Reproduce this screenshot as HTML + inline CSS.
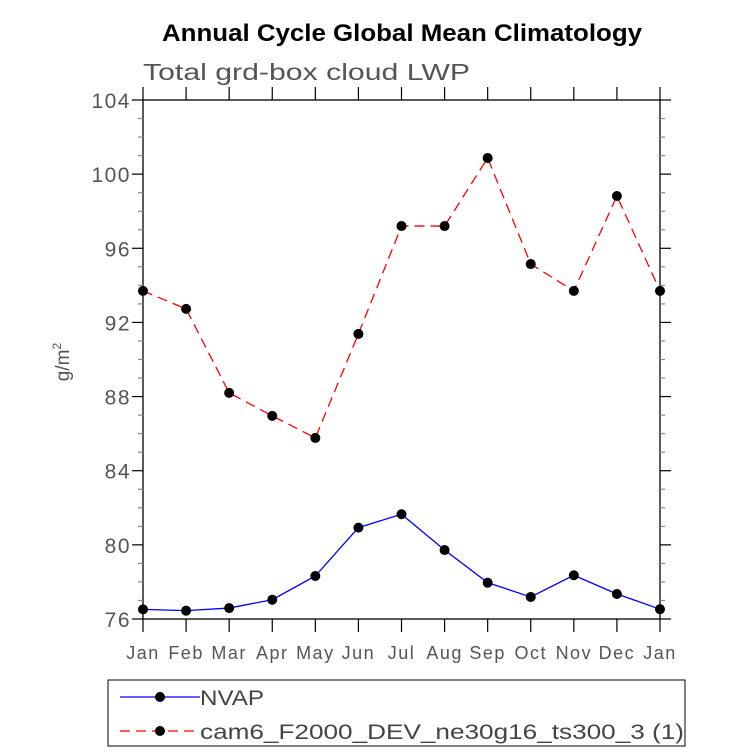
<!DOCTYPE html>
<html><head><meta charset="utf-8"><style>
body{margin:0;background:#fff;}
svg{display:block;font-family:"Liberation Sans",sans-serif;}
</style></head><body>
<svg id="chart" width="733" height="754" viewBox="0 0 733 754" xmlns="http://www.w3.org/2000/svg">
<text x="162" y="41" textLength="480" lengthAdjust="spacingAndGlyphs" font-size="24" font-weight="bold">Annual Cycle Global Mean Climatology</text>
<text x="143" y="80" textLength="327" lengthAdjust="spacingAndGlyphs" font-size="23" fill="#555">Total grd-box cloud LWP</text>
<text transform="translate(69,362) rotate(-90)" text-anchor="middle" font-size="19" fill="#555">g/m<tspan dy="-8" font-size="12">2</tspan></text>
<g id="axes"></g>
<g id="series"></g>
<rect x="108" y="680" width="577" height="66" fill="none" stroke="#000" stroke-width="1"/>
<g>
<line x1="120" y1="697" x2="200" y2="697" stroke="#0000ff" stroke-width="1.3"/>
<circle cx="160" cy="697" r="5" fill="#000"/>
<text x="200" y="705" textLength="64" lengthAdjust="spacingAndGlyphs" font-size="21" fill="#444">NVAP</text>
</g>
<g>
<line x1="120" y1="731" x2="200" y2="731" stroke="#ff0000" stroke-width="1.3" stroke-dasharray="10,6"/>
<circle cx="160" cy="731" r="5" fill="#000"/>
<text x="200" y="739" textLength="484" lengthAdjust="spacingAndGlyphs" font-size="21" fill="#444">cam6_F2000_DEV_ne30g16_ts300_3 (1)</text>
</g>
</svg>
<script>
const months = ["Jan","Feb","Mar","Apr","May","Jun","Jul","Aug","Sep","Oct","Nov","Dec","Jan"];
const nvap = [76.52,76.45,76.59,77.04,78.32,80.93,81.65,79.72,77.96,77.19,78.36,77.35,76.53];
const cam6 = [93.7,92.73,88.2,86.96,85.77,91.38,97.2,97.2,100.87,95.15,93.7,98.82,93.7];
const yTicks = [76,80,84,88,92,96,100,104];
const L=143,R=660,T=100,B=619,yMin=76,yMax=104;
const NS="http://www.w3.org/2000/svg";
const xs=i=>L+(R-L)*i/(months.length-1);
const ys=v=>B-(v-yMin)/(yMax-yMin)*(B-T);
const ax=document.getElementById('axes');
function mk(tag,attrs,parent){const e=document.createElementNS(NS,tag);for(const k in attrs)e.setAttribute(k,attrs[k]);parent.appendChild(e);return e;}
const frame=mk('rect',{x:L,y:T,width:R-L,height:B-T,fill:'none',stroke:'#000','stroke-width':1.3},ax);


for(let v=yMin;v<=yMax;v++){
  const major=yTicks.includes(v);const len=major?11:5;const y=ys(v);
  mk('line',{x1:L-len,y1:y,x2:L,y2:y,stroke:major?'#000':'#888','stroke-width':1.2},ax);
  mk('line',{x1:R,y1:y,x2:R+len,y2:y,stroke:major?'#000':'#888','stroke-width':1.2},ax);
}
yTicks.forEach(v=>{
  const t=mk('text',{x:L-12,y:ys(v)+8,'text-anchor':'end','font-size':21,'letter-spacing':1.5,fill:'#555'},ax);
  
  
  t.textContent=v;
});
months.forEach((m,i)=>{
  const x=xs(i);
  mk('line',{x1:x,y1:B,x2:x,y2:B+13,stroke:'#000','stroke-width':1.2},ax);
  mk('line',{x1:x,y1:T-13,x2:x,y2:T,stroke:'#000','stroke-width':1.2},ax);
  const t=mk('text',{x:x,y:B+40,'text-anchor':'middle','font-size':18,'letter-spacing':1.5,fill:'#555'},ax);
  
  
  t.textContent=m;
});
const sg=document.getElementById('series');
function series(vals,color,dash,name){
  const g=mk('g',{},sg);
  
  
  const p=mk('polyline',{points:vals.map((v,i)=>xs(i)+','+ys(v)).join(' '),fill:'none',stroke:color,'stroke-width':1.3},g);
  if(dash)p.setAttribute('stroke-dasharray',dash);
  vals.forEach((v,i)=>{
    const c=mk('circle',{cx:xs(i),cy:ys(v),r:5,fill:'#000'},g);
    
    
  });
}
series(nvap,'#0000ff',null,'nvap-series');
series(cam6,'#ff0000','10,6','cam6-series');
</script>
</body></html>
